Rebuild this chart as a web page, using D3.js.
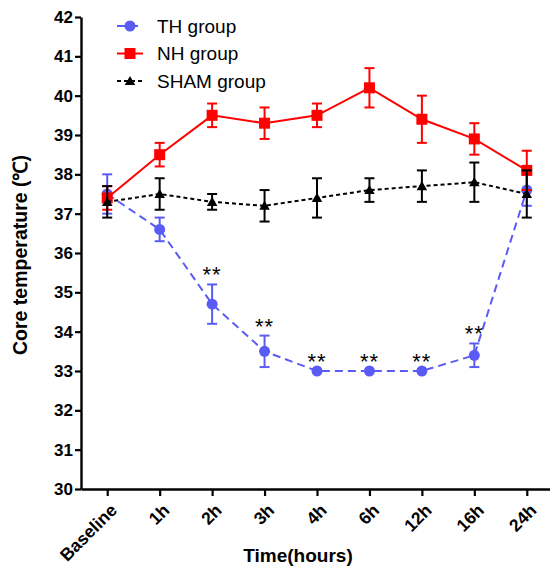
<!DOCTYPE html>
<html>
<head>
<meta charset="utf-8">
<script src="https://cdn.jsdelivr.net/npm/d3@7"></script>
<style>
  html, body { margin: 0; padding: 0; background: #fff; }
  svg { display: block; }
  text { font-family: Arial, "Liberation Sans", sans-serif; }
</style>
</head>
<body>
<svg id="chart" width="550" height="568"></svg>
<script>
const categories = ["Baseline", "1h", "2h", "3h", "4h", "6h", "12h", "16h", "24h"];
const thMean   = [37.5, 36.6, 34.7, 33.5, 33.0, 33.0, 33.0, 33.4, 37.6];
const thErr    = [0.5, 0.3, 0.5, 0.4, 0.0, 0.0, 0.0, 0.3, 0.4];
const nhMean   = [37.4, 38.5, 39.5, 39.3, 39.5, 40.2, 39.4, 38.9, 38.1];
const nhErr    = [0.3, 0.3, 0.3, 0.4, 0.3, 0.5, 0.6, 0.4, 0.5];
const shamMean = [37.3, 37.5, 37.3, 37.2, 37.4, 37.6, 37.7, 37.8, 37.5];
const shamErr  = [0.4, 0.4, 0.2, 0.4, 0.5, 0.3, 0.4, 0.5, 0.6];
const sigCategories = ["2h", "3h", "4h", "6h", "12h", "16h"];
const sigLabel = "**";
const yTicks = [30, 31, 32, 33, 34, 35, 36, 37, 38, 39, 40, 41, 42];
const seriesNames = ["TH group", "NH group", "SHAM group"];

const svg = d3.select("#chart");
const x = d3.scalePoint().domain(categories).range([81, 553]).padding(0.5);
const y = d3.scaleLinear().domain([30, 42]).range([489, 17]);

const series = [
  { name: seriesNames[0], mean: thMean, err: thErr, color: "#5a5af5", dash: "8,5", shape: "circle" },
  { name: seriesNames[1], mean: nhMean, err: nhErr, color: "#ff0000", dash: null, shape: "square" },
  { name: seriesNames[2], mean: shamMean, err: shamErr, color: "#000000", dash: "4,3", shape: "triangle" }
];

// Axes
const yAxis = svg.append("g").attr("transform", "translate(81,0)")
  .call(d3.axisLeft(y).tickValues(yTicks).tickSize(6).tickSizeOuter(0).tickFormat(d3.format("d")));
yAxis.select(".domain").attr("stroke-width", 2.4).attr("stroke", "#000");
yAxis.selectAll(".tick line").attr("stroke-width", 2.2).attr("stroke", "#000");
yAxis.selectAll(".tick text").attr("font-size", 17).attr("font-weight", "bold").attr("fill", "#000")
  .attr("font-family", "Arial, 'Liberation Sans', sans-serif").attr("x", -8);

const xAxis = svg.append("g").attr("transform", "translate(0,489)")
  .call(d3.axisBottom(x).tickSize(7).tickSizeOuter(0));
xAxis.select(".domain").attr("stroke-width", 2.4).attr("stroke", "#000");
xAxis.selectAll(".tick line").attr("stroke-width", 2.2).attr("stroke", "#000");
xAxis.selectAll(".tick text")
  .attr("font-size", 17.5).attr("font-weight", "bold").attr("fill", "#000")
  .attr("font-family", "Arial, 'Liberation Sans', sans-serif")
  .attr("text-anchor", "end")
  .attr("transform", "translate(6,18) rotate(-45)")
  .attr("y", 0).attr("dy", "0.35em");

// Axis titles
svg.append("text")
  .attr("transform", "translate(27,255) rotate(-90)")
  .attr("text-anchor", "middle")
  .attr("font-size", 19.5).attr("font-weight", "bold")
  .text("Core temperature (℃)");
svg.append("text")
  .attr("x", 298).attr("y", 562)
  .attr("text-anchor", "middle")
  .attr("font-size", 19).attr("font-weight", "bold")
  .text("Time(hours)");

function drawMarker(g, shape, color, cx, cy) {
  if (shape === "circle") {
    g.append("circle").attr("cx", cx).attr("cy", cy).attr("r", 5.5).attr("fill", color);
  } else if (shape === "square") {
    g.append("rect").attr("x", cx - 5.5).attr("y", cy - 5.5).attr("width", 11).attr("height", 11).attr("fill", color);
  } else {
    g.append("path").attr("d", d3.symbol().type(d3.symbolTriangle).size(48)()).attr("transform", `translate(${cx},${cy + 1})`).attr("fill", color);
  }
}

// Series
series.forEach(s => {
  const g = svg.append("g");
  const pts = categories.map((c, i) => ({ c, m: s.mean[i], e: s.err[i] }));
  pts.forEach(p => {
    if (p.e > 0) {
      const cx = x(p.c), yt = y(p.m + p.e), yb = y(p.m - p.e);
      g.append("line").attr("x1", cx).attr("x2", cx).attr("y1", yt).attr("y2", yb).attr("stroke", s.color).attr("stroke-width", 2);
      g.append("line").attr("x1", cx - 5).attr("x2", cx + 5).attr("y1", yt).attr("y2", yt).attr("stroke", s.color).attr("stroke-width", 2);
      g.append("line").attr("x1", cx - 5).attr("x2", cx + 5).attr("y1", yb).attr("y2", yb).attr("stroke", s.color).attr("stroke-width", 2);
    }
  });
  const line = d3.line().x(p => x(p.c)).y(p => y(p.m));
  g.append("path").datum(pts).attr("d", line).attr("fill", "none")
    .attr("stroke", s.color).attr("stroke-width", 2)
    .attr("stroke-dasharray", s.dash);
  pts.forEach(p => drawMarker(g, s.shape, s.color, x(p.c), y(p.m)));
});

// Significance marks on TH group
sigCategories.forEach(c => {
  const i = categories.indexOf(c);
  svg.append("text")
    .attr("x", x(c)).attr("y", y(thMean[i] + thErr[i]) - 2)
    .attr("text-anchor", "middle")
    .attr("font-size", 22)
    .attr("letter-spacing", 1)
    .text(sigLabel);
});

// Legend
const legend = svg.append("g");
series.forEach((s, i) => {
  const ly = 26 + i * 27.5;
  legend.append("line").attr("x1", 117).attr("x2", 143).attr("y1", ly).attr("y2", ly)
    .attr("stroke", s.color).attr("stroke-width", 2).attr("stroke-dasharray", s.dash);
  drawMarker(legend, s.shape, s.color, 130, ly);
  legend.append("text").attr("x", 157).attr("y", ly).attr("dy", "0.36em")
    .attr("font-size", 19).text(s.name);
});
</script>
</body>
</html>
